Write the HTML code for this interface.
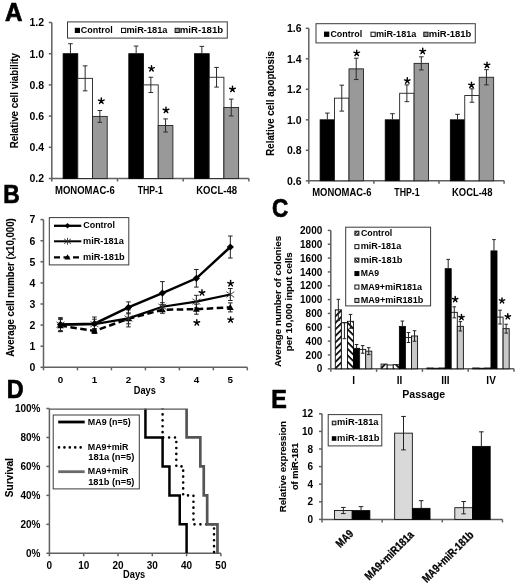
<!DOCTYPE html>
<html><head><meta charset="utf-8"><style>
html,body{margin:0;padding:0;background:#fff;}
svg{display:block;filter:blur(0.45px);}
text{font-family:"Liberation Sans",sans-serif;font-weight:bold;}
</style></head><body>
<svg width="520" height="586" viewBox="0 0 520 586">
<rect width="520" height="586" fill="#fff"/>
<defs>
<pattern id="hf" patternUnits="userSpaceOnUse" width="4.6" height="4.6" patternTransform="rotate(-45)">
<rect width="4.6" height="4.6" fill="#fff"/><rect width="4.6" height="1.7" fill="#000"/></pattern>
<pattern id="hb" patternUnits="userSpaceOnUse" width="4.6" height="4.6" patternTransform="rotate(45)">
<rect width="4.6" height="4.6" fill="#fff"/><rect width="4.6" height="1.7" fill="#000"/></pattern>
<pattern id="hfs" patternUnits="userSpaceOnUse" width="2.2" height="2.2" patternTransform="rotate(-45)">
<rect width="2.2" height="2.2" fill="#fff"/><rect width="2.2" height="1" fill="#000"/></pattern>
<pattern id="hbs" patternUnits="userSpaceOnUse" width="2.2" height="2.2" patternTransform="rotate(45)">
<rect width="2.2" height="2.2" fill="#fff"/><rect width="2.2" height="1" fill="#000"/></pattern>
</defs>
<text x="4.95" y="21.10" font-size="25.00" textLength="17.44" lengthAdjust="spacingAndGlyphs" stroke="#000" stroke-width="0.7">A</text>
<text x="3.23" y="202.55" font-size="25.00" textLength="16.46" lengthAdjust="spacingAndGlyphs" stroke="#000" stroke-width="0.7">B</text>
<text x="271.93" y="216.60" font-size="25.00" textLength="16.24" lengthAdjust="spacingAndGlyphs" stroke="#000" stroke-width="0.7">C</text>
<text x="6.69" y="398.15" font-size="25.00" textLength="16.84" lengthAdjust="spacingAndGlyphs" stroke="#000" stroke-width="0.7">D</text>
<text x="271.29" y="407.55" font-size="25.00" textLength="15.57" lengthAdjust="spacingAndGlyphs" stroke="#000" stroke-width="0.7">E</text>
<line x1="51.80" y1="22.50" x2="51.80" y2="178.50" stroke="#606060" stroke-width="1.5" />
<line x1="48.80" y1="178.50" x2="51.80" y2="178.50" stroke="#606060" stroke-width="1.5" />
<text x="44.00" y="182.30" font-size="10.5" text-anchor="end" fill="#000" >0.2</text>
<line x1="48.80" y1="147.30" x2="51.80" y2="147.30" stroke="#606060" stroke-width="1.5" />
<text x="44.00" y="151.10" font-size="10.5" text-anchor="end" fill="#000" >0.4</text>
<line x1="48.80" y1="116.10" x2="51.80" y2="116.10" stroke="#606060" stroke-width="1.5" />
<text x="44.00" y="119.90" font-size="10.5" text-anchor="end" fill="#000" >0.6</text>
<line x1="48.80" y1="84.90" x2="51.80" y2="84.90" stroke="#606060" stroke-width="1.5" />
<text x="44.00" y="88.70" font-size="10.5" text-anchor="end" fill="#000" >0.8</text>
<line x1="48.80" y1="53.70" x2="51.80" y2="53.70" stroke="#606060" stroke-width="1.5" />
<text x="44.00" y="57.50" font-size="10.5" text-anchor="end" fill="#000" >1.0</text>
<line x1="48.80" y1="22.50" x2="51.80" y2="22.50" stroke="#606060" stroke-width="1.5" />
<text x="44.00" y="26.30" font-size="10.5" text-anchor="end" fill="#000" >1.2</text>
<line x1="51.80" y1="178.50" x2="248.90" y2="178.50" stroke="#606060" stroke-width="1.5" />
<line x1="51.80" y1="178.50" x2="51.80" y2="181.50" stroke="#606060" stroke-width="1.5" />
<line x1="117.50" y1="178.50" x2="117.50" y2="181.50" stroke="#606060" stroke-width="1.5" />
<line x1="183.20" y1="178.50" x2="183.20" y2="181.50" stroke="#606060" stroke-width="1.5" />
<line x1="248.90" y1="178.50" x2="248.90" y2="181.50" stroke="#606060" stroke-width="1.5" />
<rect x="63.10" y="53.70" width="14.70" height="124.80" fill="#000" stroke="#000" stroke-width="0.8" />
<line x1="70.45" y1="43.72" x2="70.45" y2="53.70" stroke="#2a2a2a" stroke-width="1" />
<line x1="68.15" y1="43.72" x2="72.75" y2="43.72" stroke="#2a2a2a" stroke-width="1" />
<rect x="77.80" y="78.35" width="14.70" height="100.15" fill="#fff" stroke="#222" stroke-width="0.9" />
<line x1="85.15" y1="65.87" x2="85.15" y2="90.83" stroke="#2a2a2a" stroke-width="1" />
<line x1="82.85" y1="65.87" x2="87.45" y2="65.87" stroke="#2a2a2a" stroke-width="1" />
<line x1="82.85" y1="90.83" x2="87.45" y2="90.83" stroke="#2a2a2a" stroke-width="1" />
<rect x="92.50" y="116.41" width="14.70" height="62.09" fill="#999" stroke="#222" stroke-width="0.9" />
<line x1="99.85" y1="110.48" x2="99.85" y2="122.34" stroke="#2a2a2a" stroke-width="1" />
<line x1="97.55" y1="110.48" x2="102.15" y2="110.48" stroke="#2a2a2a" stroke-width="1" />
<line x1="97.55" y1="122.34" x2="102.15" y2="122.34" stroke="#2a2a2a" stroke-width="1" />
<rect x="128.80" y="53.70" width="14.70" height="124.80" fill="#000" stroke="#000" stroke-width="0.8" />
<line x1="136.15" y1="46.06" x2="136.15" y2="53.70" stroke="#2a2a2a" stroke-width="1" />
<line x1="133.85" y1="46.06" x2="138.45" y2="46.06" stroke="#2a2a2a" stroke-width="1" />
<rect x="143.50" y="84.90" width="14.70" height="93.60" fill="#fff" stroke="#222" stroke-width="0.9" />
<line x1="150.85" y1="77.26" x2="150.85" y2="92.54" stroke="#2a2a2a" stroke-width="1" />
<line x1="148.55" y1="77.26" x2="153.15" y2="77.26" stroke="#2a2a2a" stroke-width="1" />
<line x1="148.55" y1="92.54" x2="153.15" y2="92.54" stroke="#2a2a2a" stroke-width="1" />
<rect x="158.20" y="125.46" width="14.70" height="53.04" fill="#999" stroke="#222" stroke-width="0.9" />
<line x1="165.55" y1="118.91" x2="165.55" y2="132.01" stroke="#2a2a2a" stroke-width="1" />
<line x1="163.25" y1="118.91" x2="167.85" y2="118.91" stroke="#2a2a2a" stroke-width="1" />
<line x1="163.25" y1="132.01" x2="167.85" y2="132.01" stroke="#2a2a2a" stroke-width="1" />
<rect x="194.50" y="53.70" width="14.70" height="124.80" fill="#000" stroke="#000" stroke-width="0.8" />
<line x1="201.85" y1="46.37" x2="201.85" y2="53.70" stroke="#2a2a2a" stroke-width="1" />
<line x1="199.55" y1="46.37" x2="204.15" y2="46.37" stroke="#2a2a2a" stroke-width="1" />
<rect x="209.20" y="77.26" width="14.70" height="101.24" fill="#fff" stroke="#222" stroke-width="0.9" />
<line x1="216.55" y1="67.43" x2="216.55" y2="87.08" stroke="#2a2a2a" stroke-width="1" />
<line x1="214.25" y1="67.43" x2="218.85" y2="67.43" stroke="#2a2a2a" stroke-width="1" />
<line x1="214.25" y1="87.08" x2="218.85" y2="87.08" stroke="#2a2a2a" stroke-width="1" />
<rect x="223.90" y="107.52" width="14.70" height="70.98" fill="#999" stroke="#222" stroke-width="0.9" />
<line x1="231.25" y1="99.10" x2="231.25" y2="115.94" stroke="#2a2a2a" stroke-width="1" />
<line x1="228.95" y1="99.10" x2="233.55" y2="99.10" stroke="#2a2a2a" stroke-width="1" />
<line x1="228.95" y1="115.94" x2="233.55" y2="115.94" stroke="#2a2a2a" stroke-width="1" />
<path d="M101.30,101.00L101.30,98.05M101.30,101.00L104.11,100.08M101.30,101.00L103.03,103.38M101.30,101.00L99.57,103.38M101.30,101.00L98.49,100.08" stroke="#000" stroke-width="1.45" stroke-linecap="round" fill="none"/>
<path d="M151.50,68.59L151.50,65.64M151.50,68.59L154.31,67.68M151.50,68.59L153.23,70.98M151.50,68.59L149.77,70.98M151.50,68.59L148.69,67.68" stroke="#000" stroke-width="1.45" stroke-linecap="round" fill="none"/>
<path d="M166.00,110.20L166.00,107.25M166.00,110.20L168.81,109.28M166.00,110.20L167.73,112.58M166.00,110.20L164.27,112.58M166.00,110.20L163.19,109.28" stroke="#000" stroke-width="1.45" stroke-linecap="round" fill="none"/>
<path d="M232.50,89.20L232.50,86.25M232.50,89.20L235.31,88.28M232.50,89.20L234.23,91.58M232.50,89.20L230.77,91.58M232.50,89.20L229.69,88.28" stroke="#000" stroke-width="1.45" stroke-linecap="round" fill="none"/>
<text x="54.96" y="194.30" font-size="10.30" textLength="59.78" lengthAdjust="spacingAndGlyphs" >MONOMAC-6</text>
<text x="137.70" y="194.30" font-size="10.30" textLength="25.14" lengthAdjust="spacingAndGlyphs" >THP-1</text>
<text x="196.26" y="194.30" font-size="10.30" textLength="40.73" lengthAdjust="spacingAndGlyphs" >KOCL-48</text>
<text x="17.80" y="148.35" font-size="10.20" textLength="95.40" lengthAdjust="spacingAndGlyphs" stroke="#000" stroke-width="0.12" transform="rotate(-90 17.80 148.35)">Relative cell viability</text>
<line x1="308.80" y1="28.30" x2="308.80" y2="180.80" stroke="#606060" stroke-width="1.5" />
<line x1="305.80" y1="180.80" x2="308.80" y2="180.80" stroke="#606060" stroke-width="1.5" />
<text x="301.50" y="184.60" font-size="10.5" text-anchor="end" fill="#000" >0.6</text>
<line x1="305.80" y1="150.30" x2="308.80" y2="150.30" stroke="#606060" stroke-width="1.5" />
<text x="301.50" y="154.10" font-size="10.5" text-anchor="end" fill="#000" >0.8</text>
<line x1="305.80" y1="119.80" x2="308.80" y2="119.80" stroke="#606060" stroke-width="1.5" />
<text x="301.50" y="123.60" font-size="10.5" text-anchor="end" fill="#000" >1.0</text>
<line x1="305.80" y1="89.30" x2="308.80" y2="89.30" stroke="#606060" stroke-width="1.5" />
<text x="301.50" y="93.10" font-size="10.5" text-anchor="end" fill="#000" >1.2</text>
<line x1="305.80" y1="58.80" x2="308.80" y2="58.80" stroke="#606060" stroke-width="1.5" />
<text x="301.50" y="62.60" font-size="10.5" text-anchor="end" fill="#000" >1.4</text>
<line x1="305.80" y1="28.30" x2="308.80" y2="28.30" stroke="#606060" stroke-width="1.5" />
<text x="301.50" y="32.10" font-size="10.5" text-anchor="end" fill="#000" >1.6</text>
<line x1="308.80" y1="180.80" x2="504.10" y2="180.80" stroke="#606060" stroke-width="1.5" />
<line x1="308.80" y1="180.80" x2="308.80" y2="183.80" stroke="#606060" stroke-width="1.5" />
<line x1="373.90" y1="180.80" x2="373.90" y2="183.80" stroke="#606060" stroke-width="1.5" />
<line x1="439.00" y1="180.80" x2="439.00" y2="183.80" stroke="#606060" stroke-width="1.5" />
<line x1="504.10" y1="180.80" x2="504.10" y2="183.80" stroke="#606060" stroke-width="1.5" />
<rect x="320.10" y="119.80" width="14.45" height="61.00" fill="#000" stroke="#000" stroke-width="0.8" />
<line x1="327.33" y1="113.09" x2="327.33" y2="119.80" stroke="#2a2a2a" stroke-width="1" />
<line x1="325.03" y1="113.09" x2="329.63" y2="113.09" stroke="#2a2a2a" stroke-width="1" />
<rect x="334.55" y="98.15" width="14.45" height="82.65" fill="#fff" stroke="#222" stroke-width="0.9" />
<line x1="341.78" y1="85.18" x2="341.78" y2="111.11" stroke="#2a2a2a" stroke-width="1" />
<line x1="339.48" y1="85.18" x2="344.08" y2="85.18" stroke="#2a2a2a" stroke-width="1" />
<line x1="339.48" y1="111.11" x2="344.08" y2="111.11" stroke="#2a2a2a" stroke-width="1" />
<rect x="349.00" y="68.86" width="14.45" height="111.94" fill="#999" stroke="#222" stroke-width="0.9" />
<line x1="356.23" y1="58.19" x2="356.23" y2="79.54" stroke="#2a2a2a" stroke-width="1" />
<line x1="353.93" y1="58.19" x2="358.53" y2="58.19" stroke="#2a2a2a" stroke-width="1" />
<line x1="353.93" y1="79.54" x2="358.53" y2="79.54" stroke="#2a2a2a" stroke-width="1" />
<rect x="385.20" y="119.80" width="14.45" height="61.00" fill="#000" stroke="#000" stroke-width="0.8" />
<line x1="392.43" y1="113.70" x2="392.43" y2="119.80" stroke="#2a2a2a" stroke-width="1" />
<line x1="390.12" y1="113.70" x2="394.73" y2="113.70" stroke="#2a2a2a" stroke-width="1" />
<rect x="399.65" y="93.27" width="14.45" height="87.53" fill="#fff" stroke="#222" stroke-width="0.9" />
<line x1="406.88" y1="84.88" x2="406.88" y2="101.65" stroke="#2a2a2a" stroke-width="1" />
<line x1="404.57" y1="84.88" x2="409.18" y2="84.88" stroke="#2a2a2a" stroke-width="1" />
<line x1="404.57" y1="101.65" x2="409.18" y2="101.65" stroke="#2a2a2a" stroke-width="1" />
<rect x="414.10" y="63.37" width="14.45" height="117.43" fill="#999" stroke="#222" stroke-width="0.9" />
<line x1="421.32" y1="56.82" x2="421.32" y2="69.93" stroke="#2a2a2a" stroke-width="1" />
<line x1="419.02" y1="56.82" x2="423.62" y2="56.82" stroke="#2a2a2a" stroke-width="1" />
<line x1="419.02" y1="69.93" x2="423.62" y2="69.93" stroke="#2a2a2a" stroke-width="1" />
<rect x="450.30" y="119.80" width="14.45" height="61.00" fill="#000" stroke="#000" stroke-width="0.8" />
<line x1="457.53" y1="114.31" x2="457.53" y2="119.80" stroke="#2a2a2a" stroke-width="1" />
<line x1="455.23" y1="114.31" x2="459.83" y2="114.31" stroke="#2a2a2a" stroke-width="1" />
<rect x="464.75" y="95.55" width="14.45" height="85.25" fill="#fff" stroke="#222" stroke-width="0.9" />
<line x1="471.98" y1="88.84" x2="471.98" y2="102.26" stroke="#2a2a2a" stroke-width="1" />
<line x1="469.68" y1="88.84" x2="474.28" y2="88.84" stroke="#2a2a2a" stroke-width="1" />
<line x1="469.68" y1="102.26" x2="474.28" y2="102.26" stroke="#2a2a2a" stroke-width="1" />
<rect x="479.20" y="77.25" width="14.45" height="103.55" fill="#999" stroke="#222" stroke-width="0.9" />
<line x1="486.43" y1="69.63" x2="486.43" y2="84.88" stroke="#2a2a2a" stroke-width="1" />
<line x1="484.12" y1="69.63" x2="488.73" y2="69.63" stroke="#2a2a2a" stroke-width="1" />
<line x1="484.12" y1="84.88" x2="488.73" y2="84.88" stroke="#2a2a2a" stroke-width="1" />
<path d="M356.70,53.09L356.70,50.14M356.70,53.09L359.51,52.18M356.70,53.09L358.43,55.48M356.70,53.09L354.97,55.48M356.70,53.09L353.89,52.18" stroke="#000" stroke-width="1.45" stroke-linecap="round" fill="none"/>
<path d="M407.30,80.80L407.30,77.84M407.30,80.80L410.11,79.88M407.30,80.80L409.03,83.18M407.30,80.80L405.57,83.18M407.30,80.80L404.49,79.88" stroke="#000" stroke-width="1.45" stroke-linecap="round" fill="none"/>
<path d="M422.70,51.30L422.70,48.34M422.70,51.30L425.51,50.38M422.70,51.30L424.43,53.68M422.70,51.30L420.97,53.68M422.70,51.30L419.89,50.38" stroke="#000" stroke-width="1.45" stroke-linecap="round" fill="none"/>
<path d="M471.50,85.09L471.50,82.14M471.50,85.09L474.31,84.18M471.50,85.09L473.23,87.48M471.50,85.09L469.77,87.48M471.50,85.09L468.69,84.18" stroke="#000" stroke-width="1.45" stroke-linecap="round" fill="none"/>
<path d="M487.00,65.09L487.00,62.14M487.00,65.09L489.81,64.18M487.00,65.09L488.73,67.48M487.00,65.09L485.27,67.48M487.00,65.09L484.19,64.18" stroke="#000" stroke-width="1.45" stroke-linecap="round" fill="none"/>
<text x="312.27" y="196.40" font-size="10.30" textLength="59.17" lengthAdjust="spacingAndGlyphs" >MONOMAC-6</text>
<text x="394.30" y="196.40" font-size="10.30" textLength="25.34" lengthAdjust="spacingAndGlyphs" >THP-1</text>
<text x="451.97" y="196.40" font-size="10.30" textLength="40.42" lengthAdjust="spacingAndGlyphs" >KOCL-48</text>
<text x="274.20" y="155.65" font-size="10.20" textLength="104.65" lengthAdjust="spacingAndGlyphs" stroke="#000" stroke-width="0.12" transform="rotate(-90 274.20 155.65)">Relative cell apoptosis</text>
<rect x="67.50" y="21.90" width="159.80" height="16.20" fill="#fff" stroke="#3a3a3a" stroke-width="1" />
<rect x="74.80" y="27.80" width="5.20" height="5.20" fill="#000" stroke="none" stroke-width="1" />
<text x="80.83" y="33.00" font-size="9.80" textLength="32.01" lengthAdjust="spacingAndGlyphs" >Control</text>
<rect x="121.50" y="28.30" width="4.20" height="4.20" fill="#fff" stroke="#111" stroke-width="1" />
<text x="126.39" y="33.00" font-size="9.80" textLength="41.05" lengthAdjust="spacingAndGlyphs" >miR-181a</text>
<rect x="175.10" y="28.30" width="4.20" height="4.20" fill="#999" stroke="#111" stroke-width="1" />
<text x="179.76" y="33.00" font-size="9.80" textLength="43.43" lengthAdjust="spacingAndGlyphs" >miR-181b</text>
<rect x="316.00" y="23.70" width="159.30" height="19.20" fill="#fff" stroke="#3a3a3a" stroke-width="1" />
<rect x="324.00" y="31.60" width="5.30" height="5.30" fill="#000" stroke="none" stroke-width="1" />
<text x="330.43" y="36.80" font-size="9.80" textLength="31.70" lengthAdjust="spacingAndGlyphs" >Control</text>
<rect x="371.00" y="32.20" width="4.20" height="4.20" fill="#fff" stroke="#111" stroke-width="1" />
<text x="375.90" y="36.80" font-size="9.80" textLength="40.44" lengthAdjust="spacingAndGlyphs" >miR-181a</text>
<rect x="423.80" y="32.20" width="4.20" height="4.20" fill="#999" stroke="#111" stroke-width="1" />
<text x="428.78" y="36.80" font-size="9.80" textLength="42.61" lengthAdjust="spacingAndGlyphs" >miR-181b</text>
<line x1="43.50" y1="219.60" x2="43.50" y2="367.30" stroke="#606060" stroke-width="1.5" />
<line x1="40.50" y1="367.30" x2="43.50" y2="367.30" stroke="#606060" stroke-width="1.5" />
<text x="35.30" y="371.10" font-size="10.5" text-anchor="end" fill="#000" >0</text>
<line x1="40.50" y1="346.20" x2="43.50" y2="346.20" stroke="#606060" stroke-width="1.5" />
<text x="35.30" y="350.00" font-size="10.5" text-anchor="end" fill="#000" >1</text>
<line x1="40.50" y1="325.10" x2="43.50" y2="325.10" stroke="#606060" stroke-width="1.5" />
<text x="35.30" y="328.90" font-size="10.5" text-anchor="end" fill="#000" >2</text>
<line x1="40.50" y1="304.00" x2="43.50" y2="304.00" stroke="#606060" stroke-width="1.5" />
<text x="35.30" y="307.80" font-size="10.5" text-anchor="end" fill="#000" >3</text>
<line x1="40.50" y1="282.90" x2="43.50" y2="282.90" stroke="#606060" stroke-width="1.5" />
<text x="35.30" y="286.70" font-size="10.5" text-anchor="end" fill="#000" >4</text>
<line x1="40.50" y1="261.80" x2="43.50" y2="261.80" stroke="#606060" stroke-width="1.5" />
<text x="35.30" y="265.60" font-size="10.5" text-anchor="end" fill="#000" >5</text>
<line x1="40.50" y1="240.70" x2="43.50" y2="240.70" stroke="#606060" stroke-width="1.5" />
<text x="35.30" y="244.50" font-size="10.5" text-anchor="end" fill="#000" >6</text>
<line x1="40.50" y1="219.60" x2="43.50" y2="219.60" stroke="#606060" stroke-width="1.5" />
<text x="35.30" y="223.40" font-size="10.5" text-anchor="end" fill="#000" >7</text>
<line x1="43.50" y1="367.30" x2="247.32" y2="367.30" stroke="#606060" stroke-width="1.5" />
<line x1="43.50" y1="367.30" x2="43.50" y2="370.30" stroke="#606060" stroke-width="1.5" />
<line x1="77.47" y1="367.30" x2="77.47" y2="370.30" stroke="#606060" stroke-width="1.5" />
<line x1="111.44" y1="367.30" x2="111.44" y2="370.30" stroke="#606060" stroke-width="1.5" />
<line x1="145.41" y1="367.30" x2="145.41" y2="370.30" stroke="#606060" stroke-width="1.5" />
<line x1="179.38" y1="367.30" x2="179.38" y2="370.30" stroke="#606060" stroke-width="1.5" />
<line x1="213.35" y1="367.30" x2="213.35" y2="370.30" stroke="#606060" stroke-width="1.5" />
<line x1="247.32" y1="367.30" x2="247.32" y2="370.30" stroke="#606060" stroke-width="1.5" />
<text x="60.48" y="382.60" font-size="9.8" text-anchor="middle" fill="#000" >0</text>
<text x="94.45" y="382.60" font-size="9.8" text-anchor="middle" fill="#000" >1</text>
<text x="128.43" y="382.60" font-size="9.8" text-anchor="middle" fill="#000" >2</text>
<text x="162.39" y="382.60" font-size="9.8" text-anchor="middle" fill="#000" >3</text>
<text x="196.37" y="382.60" font-size="9.8" text-anchor="middle" fill="#000" >4</text>
<text x="230.33" y="382.60" font-size="9.8" text-anchor="middle" fill="#000" >5</text>
<text x="133.78" y="394.40" font-size="10.20" textLength="22.10" lengthAdjust="spacingAndGlyphs" >Days</text>
<text x="14.20" y="356.84" font-size="10.20" textLength="138.62" lengthAdjust="spacingAndGlyphs" stroke="#000" stroke-width="0.12" transform="rotate(-90 14.20 356.84)">Average cell number (x10,000)</text>
<line x1="60.48" y1="317.60" x2="60.48" y2="331.60" stroke="#222" stroke-width="1" />
<line x1="58.19" y1="317.60" x2="62.78" y2="317.60" stroke="#222" stroke-width="1" />
<line x1="58.19" y1="331.60" x2="62.78" y2="331.60" stroke="#222" stroke-width="1" />
<line x1="94.45" y1="317.00" x2="94.45" y2="330.40" stroke="#222" stroke-width="1" />
<line x1="92.16" y1="317.00" x2="96.75" y2="317.00" stroke="#222" stroke-width="1" />
<line x1="92.16" y1="330.40" x2="96.75" y2="330.40" stroke="#222" stroke-width="1" />
<line x1="128.43" y1="301.90" x2="128.43" y2="312.90" stroke="#222" stroke-width="1" />
<line x1="126.13" y1="301.90" x2="130.73" y2="301.90" stroke="#222" stroke-width="1" />
<line x1="126.13" y1="312.90" x2="130.73" y2="312.90" stroke="#222" stroke-width="1" />
<line x1="162.39" y1="281.60" x2="162.39" y2="304.60" stroke="#222" stroke-width="1" />
<line x1="160.09" y1="281.60" x2="164.69" y2="281.60" stroke="#222" stroke-width="1" />
<line x1="160.09" y1="304.60" x2="164.69" y2="304.60" stroke="#222" stroke-width="1" />
<line x1="196.37" y1="269.50" x2="196.37" y2="287.10" stroke="#222" stroke-width="1" />
<line x1="194.06" y1="269.50" x2="198.67" y2="269.50" stroke="#222" stroke-width="1" />
<line x1="194.06" y1="287.10" x2="198.67" y2="287.10" stroke="#222" stroke-width="1" />
<line x1="230.33" y1="236.00" x2="230.33" y2="258.00" stroke="#222" stroke-width="1" />
<line x1="228.03" y1="236.00" x2="232.63" y2="236.00" stroke="#222" stroke-width="1" />
<line x1="228.03" y1="258.00" x2="232.63" y2="258.00" stroke="#222" stroke-width="1" />
<line x1="60.48" y1="318.60" x2="60.48" y2="330.60" stroke="#222" stroke-width="1" />
<line x1="58.19" y1="318.60" x2="62.78" y2="318.60" stroke="#222" stroke-width="1" />
<line x1="58.19" y1="330.60" x2="62.78" y2="330.60" stroke="#222" stroke-width="1" />
<line x1="94.45" y1="319.20" x2="94.45" y2="329.20" stroke="#222" stroke-width="1" />
<line x1="92.16" y1="319.20" x2="96.75" y2="319.20" stroke="#222" stroke-width="1" />
<line x1="92.16" y1="329.20" x2="96.75" y2="329.20" stroke="#222" stroke-width="1" />
<line x1="128.43" y1="309.90" x2="128.43" y2="326.90" stroke="#222" stroke-width="1" />
<line x1="126.13" y1="309.90" x2="130.73" y2="309.90" stroke="#222" stroke-width="1" />
<line x1="126.13" y1="326.90" x2="130.73" y2="326.90" stroke="#222" stroke-width="1" />
<line x1="162.39" y1="302.70" x2="162.39" y2="310.70" stroke="#222" stroke-width="1" />
<line x1="160.09" y1="302.70" x2="164.69" y2="302.70" stroke="#222" stroke-width="1" />
<line x1="160.09" y1="310.70" x2="164.69" y2="310.70" stroke="#222" stroke-width="1" />
<line x1="196.37" y1="295.30" x2="196.37" y2="307.90" stroke="#222" stroke-width="1" />
<line x1="194.06" y1="295.30" x2="198.67" y2="295.30" stroke="#222" stroke-width="1" />
<line x1="194.06" y1="307.90" x2="198.67" y2="307.90" stroke="#222" stroke-width="1" />
<line x1="230.33" y1="288.50" x2="230.33" y2="300.50" stroke="#222" stroke-width="1" />
<line x1="228.03" y1="288.50" x2="232.63" y2="288.50" stroke="#222" stroke-width="1" />
<line x1="228.03" y1="300.50" x2="232.63" y2="300.50" stroke="#222" stroke-width="1" />
<line x1="60.48" y1="319.60" x2="60.48" y2="331.60" stroke="#222" stroke-width="1" />
<line x1="58.19" y1="319.60" x2="62.78" y2="319.60" stroke="#222" stroke-width="1" />
<line x1="58.19" y1="331.60" x2="62.78" y2="331.60" stroke="#222" stroke-width="1" />
<line x1="94.45" y1="328.50" x2="94.45" y2="333.50" stroke="#222" stroke-width="1" />
<line x1="92.16" y1="328.50" x2="96.75" y2="328.50" stroke="#222" stroke-width="1" />
<line x1="92.16" y1="333.50" x2="96.75" y2="333.50" stroke="#222" stroke-width="1" />
<line x1="128.43" y1="313.80" x2="128.43" y2="323.80" stroke="#222" stroke-width="1" />
<line x1="126.13" y1="313.80" x2="130.73" y2="313.80" stroke="#222" stroke-width="1" />
<line x1="126.13" y1="323.80" x2="130.73" y2="323.80" stroke="#222" stroke-width="1" />
<line x1="162.39" y1="306.30" x2="162.39" y2="313.30" stroke="#222" stroke-width="1" />
<line x1="160.09" y1="306.30" x2="164.69" y2="306.30" stroke="#222" stroke-width="1" />
<line x1="160.09" y1="313.30" x2="164.69" y2="313.30" stroke="#222" stroke-width="1" />
<line x1="196.37" y1="304.20" x2="196.37" y2="314.20" stroke="#222" stroke-width="1" />
<line x1="194.06" y1="304.20" x2="198.67" y2="304.20" stroke="#222" stroke-width="1" />
<line x1="194.06" y1="314.20" x2="198.67" y2="314.20" stroke="#222" stroke-width="1" />
<line x1="230.33" y1="302.90" x2="230.33" y2="311.90" stroke="#222" stroke-width="1" />
<line x1="228.03" y1="302.90" x2="232.63" y2="302.90" stroke="#222" stroke-width="1" />
<line x1="228.03" y1="311.90" x2="232.63" y2="311.90" stroke="#222" stroke-width="1" />
<polyline points="60.48,325.60 94.45,331.00 128.43,318.80 162.39,309.80 196.37,309.20 230.33,307.40" fill="none" stroke="#000" stroke-width="2.5" stroke-dasharray="6.5 3.5"/>
<polyline points="60.48,324.60 94.45,324.20 128.43,318.40 162.39,306.70 196.37,301.60 230.33,294.50" fill="none" stroke="#000" stroke-width="2.2" />
<polyline points="60.48,324.60 94.45,323.70 128.43,307.40 162.39,293.10 196.37,278.30 230.33,247.00" fill="none" stroke="#000" stroke-width="2.5" />
<polygon points="60.48,322.20 63.88,328.15 57.09,328.15" fill="#000"/>
<line x1="60.48" y1="320.60" x2="60.48" y2="328.60" stroke="#333" stroke-width="0.9" />
<line x1="56.48" y1="321.80" x2="64.48" y2="327.40" stroke="#333" stroke-width="0.9" />
<line x1="56.48" y1="327.40" x2="64.48" y2="321.80" stroke="#333" stroke-width="0.9" />
<polygon points="60.48,321.00 64.08,324.60 60.48,328.20 56.88,324.60" fill="#000"/>
<polygon points="94.45,327.60 97.86,333.55 91.05,333.55" fill="#000"/>
<line x1="94.45" y1="320.20" x2="94.45" y2="328.20" stroke="#333" stroke-width="0.9" />
<line x1="90.45" y1="321.40" x2="98.45" y2="327.00" stroke="#333" stroke-width="0.9" />
<line x1="90.45" y1="327.00" x2="98.45" y2="321.40" stroke="#333" stroke-width="0.9" />
<polygon points="94.45,320.10 98.05,323.70 94.45,327.30 90.86,323.70" fill="#000"/>
<polygon points="128.43,315.40 131.83,321.35 125.03,321.35" fill="#000"/>
<line x1="128.43" y1="314.40" x2="128.43" y2="322.40" stroke="#333" stroke-width="0.9" />
<line x1="124.43" y1="315.60" x2="132.43" y2="321.20" stroke="#333" stroke-width="0.9" />
<line x1="124.43" y1="321.20" x2="132.43" y2="315.60" stroke="#333" stroke-width="0.9" />
<polygon points="128.43,303.80 132.03,307.40 128.43,311.00 124.83,307.40" fill="#000"/>
<polygon points="162.39,306.40 165.79,312.35 158.99,312.35" fill="#000"/>
<line x1="162.39" y1="302.70" x2="162.39" y2="310.70" stroke="#333" stroke-width="0.9" />
<line x1="158.39" y1="303.90" x2="166.39" y2="309.50" stroke="#333" stroke-width="0.9" />
<line x1="158.39" y1="309.50" x2="166.39" y2="303.90" stroke="#333" stroke-width="0.9" />
<polygon points="162.39,289.50 165.99,293.10 162.39,296.70 158.79,293.10" fill="#000"/>
<polygon points="196.37,305.80 199.77,311.75 192.97,311.75" fill="#000"/>
<line x1="196.37" y1="297.60" x2="196.37" y2="305.60" stroke="#333" stroke-width="0.9" />
<line x1="192.37" y1="298.80" x2="200.37" y2="304.40" stroke="#333" stroke-width="0.9" />
<line x1="192.37" y1="304.40" x2="200.37" y2="298.80" stroke="#333" stroke-width="0.9" />
<polygon points="196.37,274.70 199.97,278.30 196.37,281.90 192.77,278.30" fill="#000"/>
<polygon points="230.33,304.00 233.73,309.95 226.93,309.95" fill="#000"/>
<line x1="230.33" y1="290.50" x2="230.33" y2="298.50" stroke="#333" stroke-width="0.9" />
<line x1="226.33" y1="291.70" x2="234.33" y2="297.30" stroke="#333" stroke-width="0.9" />
<line x1="226.33" y1="297.30" x2="234.33" y2="291.70" stroke="#333" stroke-width="0.9" />
<polygon points="230.33,243.40 233.93,247.00 230.33,250.60 226.73,247.00" fill="#000"/>
<path d="M202.00,292.69L202.00,289.75M202.00,292.69L204.81,291.78M202.00,292.69L203.73,295.08M202.00,292.69L200.27,295.08M202.00,292.69L199.19,291.78" stroke="#000" stroke-width="1.45" stroke-linecap="round" fill="none"/>
<path d="M196.80,322.69L196.80,319.75M196.80,322.69L199.61,321.78M196.80,322.69L198.53,325.08M196.80,322.69L195.07,325.08M196.80,322.69L193.99,321.78" stroke="#000" stroke-width="1.45" stroke-linecap="round" fill="none"/>
<path d="M230.60,283.50L230.60,280.55M230.60,283.50L233.41,282.58M230.60,283.50L232.33,285.88M230.60,283.50L228.87,285.88M230.60,283.50L227.79,282.58" stroke="#000" stroke-width="1.45" stroke-linecap="round" fill="none"/>
<path d="M230.60,319.80L230.60,316.85M230.60,319.80L233.41,318.88M230.60,319.80L232.33,322.18M230.60,319.80L228.87,322.18M230.60,319.80L227.79,318.88" stroke="#000" stroke-width="1.45" stroke-linecap="round" fill="none"/>
<rect x="49.30" y="217.60" width="79.50" height="47.30" fill="#fff" stroke="#3a3a3a" stroke-width="1" />
<line x1="54.00" y1="225.80" x2="81.30" y2="225.80" stroke="#000" stroke-width="2.3" />
<polygon points="67.50,223.00 70.30,225.80 67.50,228.60 64.70,225.80" fill="#000"/>
<line x1="54.00" y1="241.30" x2="81.30" y2="241.30" stroke="#000" stroke-width="2.0" />
<line x1="67.50" y1="237.90" x2="67.50" y2="244.70" stroke="#333" stroke-width="0.9" />
<line x1="64.10" y1="238.92" x2="70.90" y2="243.68" stroke="#333" stroke-width="0.9" />
<line x1="64.10" y1="243.68" x2="70.90" y2="238.92" stroke="#333" stroke-width="0.9" />
<line x1="54.00" y1="257.30" x2="81.30" y2="257.30" stroke="#000" stroke-width="2.3" stroke-dasharray="6 3.5"/>
<polygon points="67.50,254.30 70.50,259.55 64.50,259.55" fill="#000"/>
<text x="83.23" y="228.30" font-size="9.40" textLength="31.80" lengthAdjust="spacingAndGlyphs" >Control</text>
<text x="82.99" y="244.00" font-size="9.40" textLength="40.85" lengthAdjust="spacingAndGlyphs" >miR-181a</text>
<text x="82.99" y="260.00" font-size="9.40" textLength="41.79" lengthAdjust="spacingAndGlyphs" >miR-181b</text>
<line x1="330.80" y1="230.40" x2="330.80" y2="368.80" stroke="#606060" stroke-width="1.5" />
<line x1="327.80" y1="368.80" x2="330.80" y2="368.80" stroke="#606060" stroke-width="1.5" />
<text x="322.30" y="372.40" font-size="10" text-anchor="end" fill="#000" >0</text>
<line x1="327.80" y1="354.96" x2="330.80" y2="354.96" stroke="#606060" stroke-width="1.5" />
<text x="322.30" y="358.56" font-size="10" text-anchor="end" fill="#000" >200</text>
<line x1="327.80" y1="341.12" x2="330.80" y2="341.12" stroke="#606060" stroke-width="1.5" />
<text x="322.30" y="344.72" font-size="10" text-anchor="end" fill="#000" >400</text>
<line x1="327.80" y1="327.28" x2="330.80" y2="327.28" stroke="#606060" stroke-width="1.5" />
<text x="322.30" y="330.88" font-size="10" text-anchor="end" fill="#000" >600</text>
<line x1="327.80" y1="313.44" x2="330.80" y2="313.44" stroke="#606060" stroke-width="1.5" />
<text x="322.30" y="317.04" font-size="10" text-anchor="end" fill="#000" >800</text>
<line x1="327.80" y1="299.60" x2="330.80" y2="299.60" stroke="#606060" stroke-width="1.5" />
<text x="322.30" y="303.20" font-size="10" text-anchor="end" fill="#000" >1000</text>
<line x1="327.80" y1="285.76" x2="330.80" y2="285.76" stroke="#606060" stroke-width="1.5" />
<text x="322.30" y="289.36" font-size="10" text-anchor="end" fill="#000" >1200</text>
<line x1="327.80" y1="271.92" x2="330.80" y2="271.92" stroke="#606060" stroke-width="1.5" />
<text x="322.30" y="275.52" font-size="10" text-anchor="end" fill="#000" >1400</text>
<line x1="327.80" y1="258.08" x2="330.80" y2="258.08" stroke="#606060" stroke-width="1.5" />
<text x="322.30" y="261.68" font-size="10" text-anchor="end" fill="#000" >1600</text>
<line x1="327.80" y1="244.24" x2="330.80" y2="244.24" stroke="#606060" stroke-width="1.5" />
<text x="322.30" y="247.84" font-size="10" text-anchor="end" fill="#000" >1800</text>
<line x1="327.80" y1="230.40" x2="330.80" y2="230.40" stroke="#606060" stroke-width="1.5" />
<text x="322.30" y="234.00" font-size="10" text-anchor="end" fill="#000" >2000</text>
<line x1="330.80" y1="368.80" x2="514.00" y2="368.80" stroke="#606060" stroke-width="1.5" />
<line x1="330.80" y1="368.80" x2="330.80" y2="371.80" stroke="#606060" stroke-width="1.5" />
<line x1="376.60" y1="368.80" x2="376.60" y2="371.80" stroke="#606060" stroke-width="1.5" />
<line x1="422.40" y1="368.80" x2="422.40" y2="371.80" stroke="#606060" stroke-width="1.5" />
<line x1="468.20" y1="368.80" x2="468.20" y2="371.80" stroke="#606060" stroke-width="1.5" />
<line x1="514.00" y1="368.80" x2="514.00" y2="371.80" stroke="#606060" stroke-width="1.5" />
<text x="353.70" y="384.00" font-size="10" text-anchor="middle" fill="#000" >I</text>
<text x="399.50" y="384.00" font-size="10" text-anchor="middle" fill="#000" >II</text>
<text x="445.30" y="384.00" font-size="10" text-anchor="middle" fill="#000" >III</text>
<text x="491.10" y="384.00" font-size="10" text-anchor="middle" fill="#000" >IV</text>
<text x="402.19" y="397.50" font-size="10.00" textLength="42.97" lengthAdjust="spacingAndGlyphs" >Passage</text>
<text x="281.30" y="366.94" font-size="9.40" textLength="131.14" lengthAdjust="spacingAndGlyphs" stroke="#000" stroke-width="0.12" transform="rotate(-90 281.30 366.94)">Average number of colonies</text>
<text x="292.20" y="351.13" font-size="9.40" textLength="98.92" lengthAdjust="spacingAndGlyphs" stroke="#000" stroke-width="0.12" transform="rotate(-90 292.20 351.13)">per 10,000  input cells</text>
<rect x="335.30" y="309.84" width="6.08" height="58.96" fill="url(#hf)" stroke="#111" stroke-width="0.9" />
<line x1="338.34" y1="299.32" x2="338.34" y2="320.36" stroke="#222" stroke-width="1" />
<line x1="336.54" y1="299.32" x2="340.14" y2="299.32" stroke="#222" stroke-width="1" />
<line x1="336.54" y1="320.36" x2="340.14" y2="320.36" stroke="#222" stroke-width="1" />
<rect x="341.38" y="322.71" width="6.08" height="46.09" fill="#fff" stroke="#111" stroke-width="0.9" />
<line x1="344.42" y1="322.71" x2="344.42" y2="338.71" stroke="#222" stroke-width="1" />
<line x1="342.62" y1="322.71" x2="346.22" y2="322.71" stroke="#222" stroke-width="1" />
<line x1="342.62" y1="338.71" x2="346.22" y2="338.71" stroke="#222" stroke-width="1" />
<rect x="347.46" y="321.33" width="6.08" height="47.47" fill="url(#hb)" stroke="#111" stroke-width="0.9" />
<line x1="350.50" y1="314.41" x2="350.50" y2="328.25" stroke="#222" stroke-width="1" />
<line x1="348.70" y1="314.41" x2="352.30" y2="314.41" stroke="#222" stroke-width="1" />
<line x1="348.70" y1="328.25" x2="352.30" y2="328.25" stroke="#222" stroke-width="1" />
<rect x="353.54" y="348.32" width="6.08" height="20.48" fill="#000" stroke="#000" stroke-width="0.8" />
<line x1="356.58" y1="344.51" x2="356.58" y2="348.32" stroke="#222" stroke-width="1" />
<line x1="354.78" y1="344.51" x2="358.38" y2="344.51" stroke="#222" stroke-width="1" />
<rect x="359.62" y="349.42" width="6.08" height="19.38" fill="#fff" stroke="#111" stroke-width="0.9" />
<line x1="362.66" y1="345.62" x2="362.66" y2="353.23" stroke="#222" stroke-width="1" />
<line x1="360.86" y1="345.62" x2="364.46" y2="345.62" stroke="#222" stroke-width="1" />
<line x1="360.86" y1="353.23" x2="364.46" y2="353.23" stroke="#222" stroke-width="1" />
<rect x="365.70" y="351.15" width="6.08" height="17.65" fill="#c8c8c8" stroke="#111" stroke-width="0.9" />
<line x1="368.74" y1="347.69" x2="368.74" y2="354.61" stroke="#222" stroke-width="1" />
<line x1="366.94" y1="347.69" x2="370.54" y2="347.69" stroke="#222" stroke-width="1" />
<line x1="366.94" y1="354.61" x2="370.54" y2="354.61" stroke="#222" stroke-width="1" />
<rect x="381.10" y="364.09" width="6.08" height="4.71" fill="url(#hf)" stroke="#111" stroke-width="0.9" />
<rect x="387.18" y="364.99" width="6.08" height="3.81" fill="#fff" stroke="#111" stroke-width="0.9" />
<rect x="393.26" y="364.65" width="6.08" height="4.15" fill="url(#hb)" stroke="#111" stroke-width="0.9" />
<rect x="399.34" y="326.59" width="6.08" height="42.21" fill="#000" stroke="#000" stroke-width="0.8" />
<line x1="402.38" y1="321.05" x2="402.38" y2="326.59" stroke="#222" stroke-width="1" />
<line x1="400.58" y1="321.05" x2="404.18" y2="321.05" stroke="#222" stroke-width="1" />
<rect x="405.42" y="337.52" width="6.08" height="31.28" fill="#fff" stroke="#111" stroke-width="0.9" />
<line x1="408.46" y1="332.54" x2="408.46" y2="342.50" stroke="#222" stroke-width="1" />
<line x1="406.66" y1="332.54" x2="410.26" y2="332.54" stroke="#222" stroke-width="1" />
<line x1="406.66" y1="342.50" x2="410.26" y2="342.50" stroke="#222" stroke-width="1" />
<rect x="411.50" y="336.00" width="6.08" height="32.80" fill="#c8c8c8" stroke="#111" stroke-width="0.9" />
<line x1="414.54" y1="330.74" x2="414.54" y2="341.26" stroke="#222" stroke-width="1" />
<line x1="412.74" y1="330.74" x2="416.34" y2="330.74" stroke="#222" stroke-width="1" />
<line x1="412.74" y1="341.26" x2="416.34" y2="341.26" stroke="#222" stroke-width="1" />
<rect x="426.90" y="367.97" width="6.08" height="0.83" fill="url(#hf)" stroke="#111" stroke-width="0.9" />
<rect x="432.98" y="368.25" width="6.08" height="0.55" fill="#fff" stroke="#111" stroke-width="0.9" />
<rect x="439.06" y="367.97" width="6.08" height="0.83" fill="url(#hb)" stroke="#111" stroke-width="0.9" />
<rect x="445.14" y="268.67" width="6.08" height="100.13" fill="#000" stroke="#000" stroke-width="0.8" />
<line x1="448.18" y1="259.39" x2="448.18" y2="268.67" stroke="#222" stroke-width="1" />
<line x1="446.38" y1="259.39" x2="449.98" y2="259.39" stroke="#222" stroke-width="1" />
<rect x="451.22" y="312.33" width="6.08" height="56.47" fill="#fff" stroke="#111" stroke-width="0.9" />
<line x1="454.26" y1="306.80" x2="454.26" y2="317.87" stroke="#222" stroke-width="1" />
<line x1="452.46" y1="306.80" x2="456.06" y2="306.80" stroke="#222" stroke-width="1" />
<line x1="452.46" y1="317.87" x2="456.06" y2="317.87" stroke="#222" stroke-width="1" />
<rect x="457.30" y="326.31" width="6.08" height="42.49" fill="#c8c8c8" stroke="#111" stroke-width="0.9" />
<line x1="460.34" y1="321.61" x2="460.34" y2="331.02" stroke="#222" stroke-width="1" />
<line x1="458.54" y1="321.61" x2="462.14" y2="321.61" stroke="#222" stroke-width="1" />
<line x1="458.54" y1="331.02" x2="462.14" y2="331.02" stroke="#222" stroke-width="1" />
<rect x="472.70" y="367.97" width="6.08" height="0.83" fill="url(#hf)" stroke="#111" stroke-width="0.9" />
<rect x="478.78" y="368.25" width="6.08" height="0.55" fill="#fff" stroke="#111" stroke-width="0.9" />
<rect x="484.86" y="367.97" width="6.08" height="0.83" fill="url(#hb)" stroke="#111" stroke-width="0.9" />
<rect x="490.94" y="250.88" width="6.08" height="117.92" fill="#000" stroke="#000" stroke-width="0.8" />
<line x1="493.98" y1="239.60" x2="493.98" y2="250.88" stroke="#222" stroke-width="1" />
<line x1="492.18" y1="239.60" x2="495.78" y2="239.60" stroke="#222" stroke-width="1" />
<rect x="497.02" y="317.11" width="6.08" height="51.69" fill="#fff" stroke="#111" stroke-width="0.9" />
<line x1="500.06" y1="310.19" x2="500.06" y2="324.03" stroke="#222" stroke-width="1" />
<line x1="498.26" y1="310.19" x2="501.86" y2="310.19" stroke="#222" stroke-width="1" />
<line x1="498.26" y1="324.03" x2="501.86" y2="324.03" stroke="#222" stroke-width="1" />
<rect x="503.10" y="328.66" width="6.08" height="40.14" fill="#c8c8c8" stroke="#111" stroke-width="0.9" />
<line x1="506.14" y1="324.24" x2="506.14" y2="333.09" stroke="#222" stroke-width="1" />
<line x1="504.34" y1="324.24" x2="507.94" y2="324.24" stroke="#222" stroke-width="1" />
<line x1="504.34" y1="333.09" x2="507.94" y2="333.09" stroke="#222" stroke-width="1" />
<path d="M455.20,299.38L455.20,296.59M455.20,299.38L457.85,298.52M455.20,299.38L456.84,301.63M455.20,299.38L453.56,301.63M455.20,299.38L452.55,298.52" stroke="#000" stroke-width="1.45" stroke-linecap="round" fill="none"/>
<path d="M461.50,317.38L461.50,314.59M461.50,317.38L464.15,316.52M461.50,317.38L463.14,319.63M461.50,317.38L459.86,319.63M461.50,317.38L458.85,316.52" stroke="#000" stroke-width="1.45" stroke-linecap="round" fill="none"/>
<path d="M502.00,300.68L502.00,297.89M502.00,300.68L504.65,299.82M502.00,300.68L503.64,302.93M502.00,300.68L500.36,302.93M502.00,300.68L499.35,299.82" stroke="#000" stroke-width="1.45" stroke-linecap="round" fill="none"/>
<path d="M507.80,316.58L507.80,313.79M507.80,316.58L510.45,315.72M507.80,316.58L509.44,318.83M507.80,316.58L506.16,318.83M507.80,316.58L505.15,315.72" stroke="#000" stroke-width="1.45" stroke-linecap="round" fill="none"/>
<rect x="345.70" y="227.20" width="84.90" height="78.70" fill="#fff" stroke="#3a3a3a" stroke-width="1" />
<rect x="354.90" y="231.20" width="4.00" height="4.00" fill="url(#hfs)" stroke="#111" stroke-width="1" />
<text x="360.94" y="235.70" font-size="9.30" textLength="31.28" lengthAdjust="spacingAndGlyphs" >Control</text>
<rect x="354.90" y="244.65" width="4.00" height="4.00" fill="#fff" stroke="#111" stroke-width="1" />
<text x="360.70" y="249.15" font-size="9.30" textLength="40.54" lengthAdjust="spacingAndGlyphs" >miR-181a</text>
<rect x="354.90" y="258.10" width="4.00" height="4.00" fill="url(#hbs)" stroke="#111" stroke-width="1" />
<text x="360.69" y="262.60" font-size="9.30" textLength="41.79" lengthAdjust="spacingAndGlyphs" >miR-181b</text>
<rect x="354.40" y="271.05" width="5.00" height="5.00" fill="#000" stroke="none" stroke-width="1" />
<text x="360.72" y="276.05" font-size="9.30" textLength="18.30" lengthAdjust="spacingAndGlyphs" >MA9</text>
<rect x="354.90" y="285.00" width="4.00" height="4.00" fill="#fff" stroke="#111" stroke-width="1" />
<text x="360.70" y="289.50" font-size="9.30" textLength="61.35" lengthAdjust="spacingAndGlyphs" >MA9+miR181a</text>
<rect x="354.90" y="298.45" width="4.00" height="4.00" fill="#c8c8c8" stroke="#111" stroke-width="1" />
<text x="360.69" y="302.95" font-size="9.30" textLength="62.58" lengthAdjust="spacingAndGlyphs" >MA9+miR181b</text>
<line x1="49.40" y1="408.50" x2="49.40" y2="553.30" stroke="#606060" stroke-width="1.5" />
<line x1="46.40" y1="553.30" x2="49.40" y2="553.30" stroke="#606060" stroke-width="1.5" />
<text x="40.50" y="556.90" font-size="10" text-anchor="end" fill="#000" >0%</text>
<line x1="46.40" y1="524.34" x2="49.40" y2="524.34" stroke="#606060" stroke-width="1.5" />
<text x="40.50" y="527.94" font-size="10" text-anchor="end" fill="#000" >20%</text>
<line x1="46.40" y1="495.38" x2="49.40" y2="495.38" stroke="#606060" stroke-width="1.5" />
<text x="40.50" y="498.98" font-size="10" text-anchor="end" fill="#000" >40%</text>
<line x1="46.40" y1="466.42" x2="49.40" y2="466.42" stroke="#606060" stroke-width="1.5" />
<text x="40.50" y="470.02" font-size="10" text-anchor="end" fill="#000" >60%</text>
<line x1="46.40" y1="437.46" x2="49.40" y2="437.46" stroke="#606060" stroke-width="1.5" />
<text x="40.50" y="441.06" font-size="10" text-anchor="end" fill="#000" >80%</text>
<line x1="46.40" y1="408.50" x2="49.40" y2="408.50" stroke="#606060" stroke-width="1.5" />
<text x="40.50" y="412.10" font-size="10" text-anchor="end" fill="#000" >100%</text>
<line x1="49.40" y1="553.30" x2="220.90" y2="553.30" stroke="#606060" stroke-width="1.5" />
<line x1="49.40" y1="553.30" x2="49.40" y2="556.30" stroke="#606060" stroke-width="1.5" />
<text x="49.40" y="568.80" font-size="10" text-anchor="middle" fill="#000" >0</text>
<line x1="83.70" y1="553.30" x2="83.70" y2="556.30" stroke="#606060" stroke-width="1.5" />
<text x="83.70" y="568.80" font-size="10" text-anchor="middle" fill="#000" >10</text>
<line x1="118.00" y1="553.30" x2="118.00" y2="556.30" stroke="#606060" stroke-width="1.5" />
<text x="118.00" y="568.80" font-size="10" text-anchor="middle" fill="#000" >20</text>
<line x1="152.30" y1="553.30" x2="152.30" y2="556.30" stroke="#606060" stroke-width="1.5" />
<text x="152.30" y="568.80" font-size="10" text-anchor="middle" fill="#000" >30</text>
<line x1="186.60" y1="553.30" x2="186.60" y2="556.30" stroke="#606060" stroke-width="1.5" />
<text x="186.60" y="568.80" font-size="10" text-anchor="middle" fill="#000" >40</text>
<line x1="220.90" y1="553.30" x2="220.90" y2="556.30" stroke="#606060" stroke-width="1.5" />
<text x="220.90" y="568.80" font-size="10" text-anchor="middle" fill="#000" >50</text>
<text x="123.08" y="578.40" font-size="10.30" textLength="22.20" lengthAdjust="spacingAndGlyphs" >Days</text>
<text x="12.60" y="497.19" font-size="10.20" textLength="39.10" lengthAdjust="spacingAndGlyphs" stroke="#000" stroke-width="0.12" transform="rotate(-90 12.60 497.19)">Survival</text>
<clipPath id="dclip"><rect x="49.40" y="408.50" width="205.80" height="144.80"/></clipPath>
<g clip-path="url(#dclip)">
<polyline points="145.44,408.50 145.44,437.46 162.59,437.46 162.59,466.42 169.45,466.42 169.45,495.38 179.74,495.38 179.74,524.34 186.60,524.34 186.60,553.30" fill="none" stroke="#000" stroke-width="2.5" stroke-linejoin="miter"/>
<polyline points="162.59,408.50 162.59,437.46 176.31,437.46 176.31,466.42 183.17,466.42 183.17,495.38 193.46,495.38 193.46,524.34 214.04,524.34 214.04,553.30" fill="none" stroke="#000" stroke-width="2.6" stroke-dasharray="0.01 5.9" stroke-linecap="round"/>
<polyline points="49.40,408.50 186.60,408.50 186.60,437.46 200.32,437.46 200.32,466.42 203.75,466.42 203.75,495.38 207.18,495.38 207.18,524.34 217.47,524.34 217.47,553.30" fill="none" stroke="#555" stroke-width="2.7" stroke-linejoin="miter"/>
</g>
<rect x="53.20" y="415.00" width="86.10" height="73.90" fill="#fff" stroke="#3a3a3a" stroke-width="1" />
<line x1="58.20" y1="422.00" x2="84.70" y2="422.00" stroke="#000" stroke-width="2.8" />
<line x1="59.00" y1="447.40" x2="84.70" y2="447.40" stroke="#000" stroke-width="2.6" stroke-dasharray="0.01 5.4" stroke-linecap="round"/>
<line x1="58.20" y1="471.70" x2="84.70" y2="471.70" stroke="#6a6a6a" stroke-width="2.8" />
<text x="87.80" y="425.00" font-size="9.00" textLength="42.84" lengthAdjust="spacingAndGlyphs" >MA9 (n=5)</text>
<text x="87.81" y="449.50" font-size="9.00" textLength="40.68" lengthAdjust="spacingAndGlyphs" >MA9+miR</text>
<text x="88.24" y="460.00" font-size="9.00" textLength="46.20" lengthAdjust="spacingAndGlyphs" >181a  (n=5)</text>
<text x="87.81" y="474.10" font-size="9.00" textLength="40.68" lengthAdjust="spacingAndGlyphs" >MA9+miR</text>
<text x="88.21" y="484.70" font-size="9.00" textLength="46.25" lengthAdjust="spacingAndGlyphs" >181b (n=5)</text>
<line x1="322.00" y1="413.80" x2="322.00" y2="519.40" stroke="#606060" stroke-width="1.5" />
<line x1="319.00" y1="519.40" x2="322.00" y2="519.40" stroke="#606060" stroke-width="1.5" />
<text x="313.00" y="523.00" font-size="10" text-anchor="end" fill="#000" >0</text>
<line x1="319.00" y1="501.80" x2="322.00" y2="501.80" stroke="#606060" stroke-width="1.5" />
<text x="313.00" y="505.40" font-size="10" text-anchor="end" fill="#000" >2</text>
<line x1="319.00" y1="484.20" x2="322.00" y2="484.20" stroke="#606060" stroke-width="1.5" />
<text x="313.00" y="487.80" font-size="10" text-anchor="end" fill="#000" >4</text>
<line x1="319.00" y1="466.60" x2="322.00" y2="466.60" stroke="#606060" stroke-width="1.5" />
<text x="313.00" y="470.20" font-size="10" text-anchor="end" fill="#000" >6</text>
<line x1="319.00" y1="449.00" x2="322.00" y2="449.00" stroke="#606060" stroke-width="1.5" />
<text x="313.00" y="452.60" font-size="10" text-anchor="end" fill="#000" >8</text>
<line x1="319.00" y1="431.40" x2="322.00" y2="431.40" stroke="#606060" stroke-width="1.5" />
<text x="313.00" y="435.00" font-size="10" text-anchor="end" fill="#000" >10</text>
<line x1="319.00" y1="413.80" x2="322.00" y2="413.80" stroke="#606060" stroke-width="1.5" />
<text x="313.00" y="417.40" font-size="10" text-anchor="end" fill="#000" >12</text>
<line x1="322.00" y1="519.40" x2="502.45" y2="519.40" stroke="#606060" stroke-width="1.5" />
<line x1="322.00" y1="519.40" x2="322.00" y2="522.40" stroke="#606060" stroke-width="1.5" />
<line x1="382.15" y1="519.40" x2="382.15" y2="522.40" stroke="#606060" stroke-width="1.5" />
<line x1="442.30" y1="519.40" x2="442.30" y2="522.40" stroke="#606060" stroke-width="1.5" />
<line x1="502.45" y1="519.40" x2="502.45" y2="522.40" stroke="#606060" stroke-width="1.5" />
<rect x="334.50" y="510.51" width="17.70" height="8.89" fill="#d9d9d9" stroke="#111" stroke-width="0.9" />
<line x1="343.35" y1="507.43" x2="343.35" y2="513.59" stroke="#222" stroke-width="1" />
<line x1="341.05" y1="507.43" x2="345.65" y2="507.43" stroke="#222" stroke-width="1" />
<line x1="341.05" y1="513.59" x2="345.65" y2="513.59" stroke="#222" stroke-width="1" />
<rect x="352.20" y="510.60" width="17.70" height="8.80" fill="#000" stroke="#000" stroke-width="0.8" />
<line x1="361.05" y1="506.64" x2="361.05" y2="510.60" stroke="#222" stroke-width="1" />
<line x1="358.75" y1="506.64" x2="363.35" y2="506.64" stroke="#222" stroke-width="1" />
<rect x="394.65" y="433.16" width="17.70" height="86.24" fill="#d9d9d9" stroke="#111" stroke-width="0.9" />
<line x1="403.50" y1="416.44" x2="403.50" y2="449.88" stroke="#222" stroke-width="1" />
<line x1="401.20" y1="416.44" x2="405.80" y2="416.44" stroke="#222" stroke-width="1" />
<line x1="401.20" y1="449.88" x2="405.80" y2="449.88" stroke="#222" stroke-width="1" />
<rect x="412.35" y="508.31" width="17.70" height="11.09" fill="#000" stroke="#000" stroke-width="0.8" />
<line x1="421.20" y1="500.66" x2="421.20" y2="508.31" stroke="#222" stroke-width="1" />
<line x1="418.90" y1="500.66" x2="423.50" y2="500.66" stroke="#222" stroke-width="1" />
<rect x="454.80" y="507.70" width="17.70" height="11.70" fill="#d9d9d9" stroke="#111" stroke-width="0.9" />
<line x1="463.65" y1="501.54" x2="463.65" y2="513.86" stroke="#222" stroke-width="1" />
<line x1="461.35" y1="501.54" x2="465.95" y2="501.54" stroke="#222" stroke-width="1" />
<line x1="461.35" y1="513.86" x2="465.95" y2="513.86" stroke="#222" stroke-width="1" />
<rect x="472.50" y="446.36" width="17.70" height="73.04" fill="#000" stroke="#000" stroke-width="0.8" />
<line x1="481.35" y1="431.84" x2="481.35" y2="446.36" stroke="#222" stroke-width="1" />
<line x1="479.05" y1="431.84" x2="483.65" y2="431.84" stroke="#222" stroke-width="1" />
<text x="340.35" y="548.13" font-size="11.30" textLength="19.37" lengthAdjust="spacingAndGlyphs" stroke="#000" stroke-width="0.3" transform="rotate(-45 340.35 548.13)">MA9</text>
<text x="369.24" y="580.85" font-size="11.30" textLength="64.08" lengthAdjust="spacingAndGlyphs" stroke="#000" stroke-width="0.3" transform="rotate(-45 369.24 580.85)">MA9+miR181a</text>
<text x="426.80" y="583.14" font-size="11.30" textLength="67.14" lengthAdjust="spacingAndGlyphs" stroke="#000" stroke-width="0.3" transform="rotate(-45 426.80 583.14)">MA9+miR-181b</text>
<text x="286.30" y="512.35" font-size="9.50" textLength="91.35" lengthAdjust="spacingAndGlyphs" stroke="#000" stroke-width="0.12" transform="rotate(-90 286.30 512.35)">Relative expression</text>
<text x="298.10" y="490.06" font-size="9.50" textLength="47.22" lengthAdjust="spacingAndGlyphs" stroke="#000" stroke-width="0.12" transform="rotate(-90 298.10 490.06)">of miR-181</text>
<rect x="328.20" y="414.60" width="53.60" height="31.30" fill="#fff" stroke="#3a3a3a" stroke-width="1" />
<rect x="332.30" y="421.20" width="3.60" height="3.60" fill="#d9d9d9" stroke="#111" stroke-width="1" />
<rect x="331.80" y="436.20" width="4.60" height="4.60" fill="#000" stroke="none" stroke-width="1" />
<text x="337.09" y="425.40" font-size="9.30" textLength="41.46" lengthAdjust="spacingAndGlyphs" >miR-181a</text>
<text x="337.08" y="440.90" font-size="9.30" textLength="42.30" lengthAdjust="spacingAndGlyphs" >miR-181b</text>
</svg>
</body></html>
